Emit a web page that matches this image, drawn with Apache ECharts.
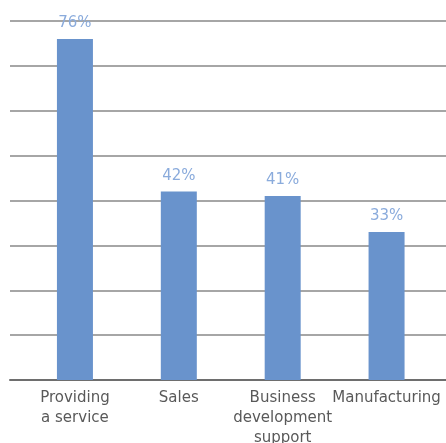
<!DOCTYPE html>
<html>
<head>
<meta charset="utf-8">
<script src="https://cdn.jsdelivr.net/npm/echarts@6/dist/echarts.min.js"></script>
<style>html,body{margin:0;padding:0;background:#fff;}#c{width:446px;height:443px;}</style>
</head>
<body>
<div id="c"></div>
<script>
const categories = ['Providing\na service', 'Sales', 'Business\ndevelopment\nsupport', 'Manufacturing'];
const values = [76, 42, 41, 33];
const yMin = 0, yMax = 80, yStep = 10;

const chart = echarts.init(document.getElementById('c'), null, {renderer: 'canvas'});
const font = 'DejaVu Sans';
chart.setOption({
  animation: false,
  backgroundColor: '#ffffff',
  grid: [
    {left: 10, right: 0, top: 21, bottom: 63, containLabel: false, outerBoundsMode: 'none'},
    {left: 23, right: 7.5, top: 21, bottom: 63, containLabel: false, outerBoundsMode: 'none'}
  ],
  xAxis: [
    {gridIndex: 0, type: 'category', data: categories,
     axisLine: {show: true, lineStyle: {color: '#6e6e6e', width: 2}},
     axisTick: {show: false}, axisLabel: {show: false}, splitLine: {show: false}},
    {gridIndex: 1, type: 'category', data: categories,
     axisLine: {show: false}, axisTick: {show: false}, splitLine: {show: false},
     axisLabel: {interval: 0, margin: 8, color: '#595959', fontFamily: font, fontSize: 15, lineHeight: 20}}
  ],
  yAxis: [
    {gridIndex: 0, type: 'value', min: yMin, max: yMax, interval: yStep,
     axisLine: {show: false}, axisTick: {show: false}, axisLabel: {show: false},
     splitLine: {show: true, lineStyle: {color: '#a6a6a6', width: 2}}},
    {gridIndex: 1, type: 'value', min: yMin, max: yMax, interval: yStep,
     axisLine: {show: false}, axisTick: {show: false}, axisLabel: {show: false},
     splitLine: {show: false}}
  ],
  series: [{
    type: 'bar', xAxisIndex: 1, yAxisIndex: 1,
    data: values, barWidth: 36,
    itemStyle: {color: '#6993cc'},
    label: {show: true, position: 'top', distance: 8, formatter: '{c}%',
            color: '#8aabdc', fontFamily: font, fontSize: 15}
  }]
});
</script>
</body>
</html>
